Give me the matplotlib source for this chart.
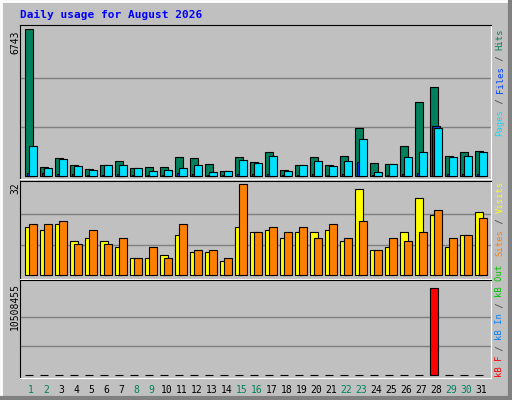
import numpy as np
import matplotlib.pyplot as plt

days = np.arange(1, 32)
hits = [6743, 427, 839, 519, 336, 519, 702, 381, 427, 427, 885, 839, 564, 244, 885,
        656, 1114, 290, 519, 885, 519, 931, 2212, 610, 564, 1388, 3402, 4089, 931, 1114, 1159]
files = [153, 120, 90, 80, 60, 70, 80, 60, 60, 60, 122, 80, 60, 40, 80,
         80, 90, 40, 70, 80, 60, 80, 656, 60, 70, 90, 122, 2304, 80, 90, 90]
pages = [1388, 381, 793, 473, 290, 519, 519, 381, 244, 290, 381, 519, 198, 244, 748,
         610, 931, 244, 519, 702, 473, 702, 1709, 198, 564, 885, 1114, 2212, 885, 931, 1114]
visits = [17, 16, 18, 12, 13, 12, 10, 6, 6, 7, 14, 8, 8, 5, 17,
          15, 16, 13, 15, 15, 16, 12, 30, 9, 10, 15, 27, 21, 10, 14, 22]
sites = [18, 18, 19, 11, 16, 11, 13, 6, 10, 6, 18, 9, 9, 6, 32,
         15, 17, 15, 17, 13, 18, 13, 19, 9, 13, 12, 15, 23, 13, 14, 20]
kb_f = [0] * 27 + [10508455] + [0] * 3
weekend = [1, 2, 8, 9, 15, 16, 22, 23, 29, 30]

BG = '#C0C0C0'
W, H = 512, 400
fig = plt.figure(figsize=(5.12, 4.0), dpi=100, facecolor=BG)
mono = 'DejaVu Sans Mono'

def px_axes(x0, y0, x1, y1):
    ax = fig.add_axes([x0 / W, 1 - y1 / H, (x1 - x0) / W, (y1 - y0) / H])
    ax.set_facecolor(BG)
    ax.set_xlim(0.5, 31.9)
    ax.set_xticks([])
    ax.set_yticks([])
    for s in ('top', 'left'):
        ax.spines[s].set_color('black')
    for s in ('bottom', 'right'):
        ax.spines[s].set_color('white')
    return ax

bw = 0.49
x_a = days - 0.147
x_b = days - 0.147 + 0.13
x_c = days + 0.12

# top panel
ax1 = px_axes(20, 25, 491, 179)
m1 = max(hits)
ax1.set_ylim(-m1 * 0.02, m1 * 1.025)
for f in (1 / 3, 2 / 3):
    ax1.axhline(m1 * f, color='#808080', lw=1, zorder=0)
ax1.bar(x_a, hits, bw, align='edge', color='#00805C', edgecolor='black', lw=0.8)
ax1.bar(x_b, files, bw, align='edge', color='#0040FF', edgecolor='black', lw=0.8)
ax1.bar(x_c, pages, bw, align='edge', color='#00E0FF', edgecolor='black', lw=0.8)

# middle panel
ax2 = px_axes(20, 181, 491, 279)
m2 = max(sites)
ax2.set_ylim(-m2 * 0.04, m2 * 1.03)
for f in (1 / 3, 2 / 3):
    ax2.axhline(m2 * f, color='#808080', lw=1, zorder=0)
ax2.bar(x_a, visits, bw, align='edge', color='#FFFF00', edgecolor='black', lw=0.8)
ax2.bar(x_c, sites, bw, align='edge', color='#FF8000', edgecolor='black', lw=0.8)

# bottom panel
ax3 = px_axes(20, 280, 491, 378)
m3 = max(kb_f)
ax3.set_ylim(-m3 * 0.04, m3 * 1.09)
for f in (1 / 3, 2 / 3):
    ax3.axhline(m3 * f, color='#808080', lw=1, zorder=0)
ax3.bar(x_a, kb_f, bw, align='edge', color='#FF0000', edgecolor='black', lw=0.8)

# day labels
for d in days:
    ax3.text(d + 0.25, -0.07, str(d), transform=ax3.get_xaxis_transform(),
             ha='center', va='top', fontsize=7, family=mono,
             color='#00805C' if d in weekend else 'black')

def ftext(x, y, s, **kw):
    fig.text(x / W, 1 - y / H, s, **kw)

ftext(20, 15, 'Daily usage for August 2026', color='#0000FF', fontsize=8,
      family=mono, fontweight='bold', va='center')
ftext(15, 30, str(m1), rotation=90, ha='center', va='top', fontsize=7, family=mono)
ftext(15, 182, str(m2), rotation=90, ha='center', va='top', fontsize=7, family=mono)
ftext(15, 283, str(m3), rotation=90, ha='center', va='top', fontsize=7, family=mono)

def vlabel(x, ytop, segs, cw=5.35):
    n = sum(len(s) for s, _ in segs)
    y = ytop + n * cw
    for s, c in segs:
        ftext(x, y, s, color=c, rotation=90, rotation_mode='anchor',
              ha='left', va='center', fontsize=6.4, family=mono)
        y -= len(s) * cw

sep = '#404040'
vlabel(500, 29, [('Pages', '#00E0FF'), (' / ', sep), ('Files', '#0040FF'),
                 (' / ', sep), ('Hits', '#00805C')])
vlabel(500, 181, [('Sites', '#FF8000'), (' / ', sep), ('Visits', '#FFFF00')])
vlabel(500, 265, [('kB F', '#FF0000'), (' / ', sep), ('kB In', '#0080FF'),
                  (' / ', sep), ('kB Out', '#00C000')])

# bevel border
fig.add_artist(plt.Line2D([0, 1], [0.997, 0.997], color='white', lw=2))
fig.add_artist(plt.Line2D([0.002, 0.002], [0, 1], color='white', lw=2))
fig.add_artist(plt.Line2D([0, 1], [0.004, 0.004], color='#808080', lw=3))
fig.add_artist(plt.Line2D([0.996, 0.996], [0, 1], color='#808080', lw=3))

fig.savefig('out.png', dpi=100, facecolor=BG)
